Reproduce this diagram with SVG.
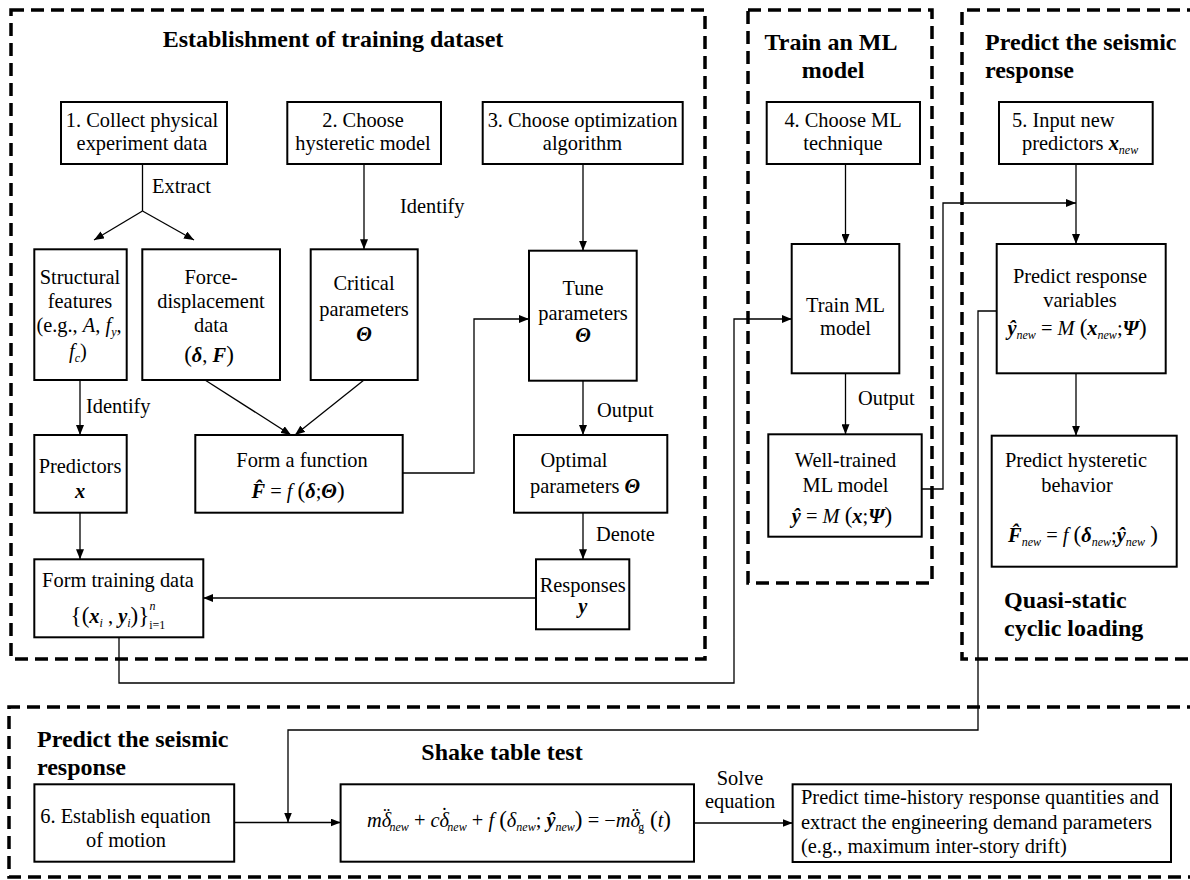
<svg xmlns="http://www.w3.org/2000/svg" width="1190" height="880" viewBox="0 0 1190 880">
<style>
text { font-family: "Liberation Serif", "Tinos", "DejaVu Serif", serif; font-size: 20.4px; fill: #000; }
.m { text-anchor: middle; }
.h { font-weight: bold; font-size: 24px; }
.i { font-style: italic; }
.bi { font-style: italic; font-weight: bold; }
.s { font-size: 12px; font-style: italic; }
.p { font-size: 23px; }
.box { fill: #fff; stroke: #000; stroke-width: 2; }
.dash { fill: none; stroke: #000; stroke-width: 3.5; stroke-dasharray: 13 7; }
.c { fill: none; stroke: #000; stroke-width: 1.3; }
.a { marker-end: url(#ah); }
</style>
<defs>
<marker id="ah" markerUnits="userSpaceOnUse" markerWidth="10" markerHeight="8" refX="10" refY="4" orient="auto">
<path d="M0,0 L10,4 L0,8 z" fill="#000"/>
</marker>
</defs>

<g id="regions">
<rect class="dash" x="11" y="10" width="694" height="649"/>
<rect class="dash" x="748" y="10" width="184" height="573"/>
<path class="dash" d="M1200,10 H962 V659 H1200"/>
<path class="dash" d="M1200,707 H9 V877 H1200"/>
</g>

<g id="titles">
<text class="h m" x="333" y="47">Establishment of training dataset</text>
<text class="h m" x="831" y="50">Train an ML</text>
<text class="h m" x="833" y="78">model</text>
<text class="h" x="985" y="50">Predict the seismic</text>
<text class="h" x="985" y="78">response</text>
<text class="h" x="1004" y="608">Quasi-static</text>
<text class="h" x="1004" y="636">cyclic loading</text>
<text class="h" x="37" y="747">Predict the seismic</text>
<text class="h" x="37" y="775">response</text>
<text class="h m" x="502" y="760">Shake table test</text>
</g>

<g id="connectors">
<path class="c" d="M142.5,164 V211"/>
<path class="c a" d="M142.5,211 L94,240"/>
<path class="c a" d="M142.5,211 L194,240"/>
<path class="c a" d="M364,164 V249.3"/>
<path class="c a" d="M583,164 V250.7"/>
<path class="c a" d="M845.5,164 V244"/>
<path class="c a" d="M1076,164 V244"/>
<path class="c a" d="M80,380 V435"/>
<path class="c a" d="M205,380 L291,435"/>
<path class="c a" d="M364,380 L295,435"/>
<path class="c a" d="M403,473 H474 V319 H529"/>
<path class="c a" d="M583,380.7 V435"/>
<path class="c a" d="M583,513 V559.3"/>
<path class="c a" d="M80,513 V559.3"/>
<path class="c a" d="M536,598 H203.3"/>
<path class="c a" d="M119,637.3 V683 H734 V319 H791.7"/>
<path class="c a" d="M845.5,373.3 V434.3"/>
<path class="c a" d="M921.7,489 H943 V203 H1076"/>
<path class="c a" d="M1076,373.3 V435.7"/>
<path class="c a" d="M996.7,311 H978 V730 H288 V822.5"/>
<path class="c a" d="M234.2,822.5 H340.6"/>
<path class="c a" d="M694,823 H792.6"/>
<text x="152" y="193">Extract</text>
<text x="400" y="213">Identify</text>
<text x="86" y="413">Identify</text>
<text x="597" y="417">Output</text>
<text x="596" y="541">Denote</text>
<text x="858" y="405">Output</text>
<text class="m" x="740" y="785">Solve</text>
<text class="m" x="740" y="808">equation</text>
</g>

<g id="n1">
<rect class="box" x="61" y="102" width="166" height="62"/>
<text class="m" x="142" y="127">1. Collect physical</text>
<text class="m" x="142" y="150">experiment data</text>
</g>
<g id="n2">
<rect class="box" x="287.3" y="102" width="153.7" height="62"/>
<text class="m" x="363" y="127">2. Choose</text>
<text class="m" x="363" y="150">hysteretic model</text>
</g>
<g id="n3">
<rect class="box" x="482.7" y="102" width="200" height="62"/>
<text class="m" x="582.5" y="127">3. Choose optimization</text>
<text class="m" x="582.5" y="150">algorithm</text>
</g>
<g id="n4">
<rect class="box" x="766.7" y="102" width="153.3" height="62"/>
<text class="m" x="843" y="127">4. Choose ML</text>
<text class="m" x="843" y="150">technique</text>
</g>
<g id="n5">
<rect class="box" x="999" y="102" width="153.7" height="62"/>
<text x="1012" y="127">5. Input new</text>
<text x="1022" y="150">predictors <tspan class="bi">x</tspan><tspan class="s" dy="4">new</tspan></text>
</g>

<g id="n-structural">
<rect class="box" x="34.3" y="249.3" width="92.4" height="130.7"/>
<text class="m" x="80" y="284">Structural</text>
<text class="m" x="80" y="308">features</text>
<text class="m" x="79" y="332">(e.g., <tspan class="i">A</tspan>, <tspan class="i">f</tspan><tspan class="s" dy="4">y</tspan><tspan dy="-4">,</tspan></text>
<text class="m" x="78" y="358"><tspan class="i">f</tspan><tspan class="s" dy="4">c</tspan><tspan dy="-4">)</tspan></text>
</g>
<g id="n-forcedisp">
<rect class="box" x="142.3" y="249.3" width="137.7" height="130.7"/>
<text class="m" x="211" y="284">Force-</text>
<text class="m" x="211" y="308">displacement</text>
<text class="m" x="211" y="332">data</text>
<text class="m" x="209" y="362"><tspan class="p">(</tspan><tspan class="bi">δ</tspan>, <tspan class="bi">F</tspan><tspan class="p">)</tspan></text>
</g>
<g id="n-critical">
<rect class="box" x="310.7" y="249.3" width="107" height="130.7"/>
<text class="m" x="364" y="290">Critical</text>
<text class="m" x="364" y="316">parameters</text>
<text class="m bi" x="364" y="341">Θ</text>
</g>
<g id="n-tune">
<rect class="box" x="529" y="250.7" width="107.7" height="130"/>
<text class="m" x="583" y="295">Tune</text>
<text class="m" x="583" y="320">parameters</text>
<text class="m bi" x="583" y="342">Θ</text>
</g>
<g id="n-train">
<rect class="box" x="791.7" y="244" width="107.6" height="129.3"/>
<text class="m" x="845.5" y="312">Train ML</text>
<text class="m" x="845.5" y="335">model</text>
</g>
<g id="n-predresp">
<rect class="box" x="996.7" y="244" width="169" height="129.3"/>
<text class="m" x="1080" y="283">Predict response</text>
<text class="m" x="1080" y="307">variables</text>
<text class="m" x="1077" y="335"><tspan class="bi">ŷ</tspan><tspan class="s" dy="4">new</tspan><tspan dy="-4"> = </tspan><tspan class="i">M</tspan> <tspan class="p">(</tspan><tspan class="bi">x</tspan><tspan class="s" dy="4">new</tspan><tspan dy="-4">;</tspan><tspan class="bi">Ψ</tspan><tspan class="p">)</tspan></text>
</g>

<g id="n-predictors">
<rect class="box" x="34.3" y="435" width="92.4" height="77.7"/>
<text class="m" x="80" y="473">Predictors</text>
<text class="m bi" x="80" y="498">x</text>
</g>
<g id="n-function">
<rect class="box" x="195.3" y="435" width="207.4" height="77.7"/>
<text class="m" x="302" y="467">Form a function</text>
<text class="m" x="298" y="498"><tspan class="bi">F&#x302;</tspan> = <tspan class="i">f</tspan> <tspan class="p">(</tspan><tspan class="bi">δ</tspan>;<tspan class="bi">Θ</tspan><tspan class="p">)</tspan></text>
</g>
<g id="n-optimal">
<rect class="box" x="514" y="435" width="153.3" height="77.7"/>
<text class="m" x="574" y="467">Optimal</text>
<text class="m" x="585" y="493">parameters <tspan class="bi">Θ</tspan></text>
</g>
<g id="n-welltrained">
<rect class="box" x="768.3" y="434.3" width="153.4" height="102.4"/>
<text class="m" x="845.5" y="467">Well-trained</text>
<text class="m" x="845.5" y="492">ML model</text>
<text class="m" x="842" y="523"><tspan class="bi">ŷ</tspan> = <tspan class="i">M</tspan> <tspan class="p">(</tspan><tspan class="bi">x</tspan>;<tspan class="bi">Ψ</tspan><tspan class="p">)</tspan></text>
</g>
<g id="n-hysteretic">
<rect class="box" x="991.7" y="435.7" width="185" height="131"/>
<text class="m" x="1076" y="467">Predict hysteretic</text>
<text class="m" x="1077" y="492">behavior</text>
<text class="m" x="1083" y="542"><tspan class="bi">F&#x302;</tspan><tspan class="s" dy="4">new</tspan><tspan dy="-4"> = </tspan><tspan class="i">f</tspan> <tspan class="p">(</tspan><tspan class="bi">δ</tspan><tspan class="s" dy="4">new</tspan><tspan dy="-4">;</tspan><tspan class="bi">ŷ</tspan><tspan class="s" dy="4">new</tspan><tspan dy="-4"> </tspan><tspan class="p">)</tspan></text>
</g>

<g id="n-responses">
<rect class="box" x="536" y="559.3" width="93.3" height="70"/>
<text class="m" x="582.7" y="592">Responses</text>
<text class="m bi" x="582.7" y="613">y</text>
</g>
<g id="n-trainingdata">
<rect class="box" x="34.3" y="559.3" width="169" height="78"/>
<text class="m" x="118" y="587">Form training data</text>
<text class="m" x="118" y="623"><tspan class="p">{(</tspan><tspan class="bi">x</tspan><tspan class="s" dy="4">i</tspan><tspan dy="-4"> , </tspan><tspan class="bi">y</tspan><tspan class="s" dy="4">i</tspan><tspan class="p" dy="-4">)}</tspan><tspan font-size="12" dy="6">i=1</tspan><tspan class="s" dx="-16" dy="-19">n</tspan></text>
</g>

<g id="n6">
<rect class="box" x="34.4" y="784.3" width="199.8" height="77.4"/>
<text class="m" x="125.5" y="823">6. Establish equation</text>
<text class="m" x="126" y="847">of motion</text>
</g>
<g id="n-equation">
<rect class="box" x="340.6" y="784.3" width="353.4" height="77.4"/>
<text class="m" x="519" y="827"><tspan class="i">mδ</tspan><tspan dx="-8" dy="-5">¨</tspan><tspan class="s" dx="-0.5" dy="9">new</tspan><tspan dy="-4"> + </tspan><tspan class="i">cδ</tspan><tspan dx="-8" dy="-5">˙</tspan><tspan class="s" dx="-0.5" dy="9">new</tspan><tspan dy="-4"> + </tspan><tspan class="i">f</tspan> <tspan class="p">(</tspan><tspan class="i">δ</tspan><tspan class="s" dy="4">new</tspan><tspan dy="-4">; </tspan><tspan class="bi">ŷ</tspan><tspan class="s" dy="4">new</tspan><tspan class="p" dy="-4">)</tspan> = −<tspan class="i">mδ</tspan><tspan dx="-8" dy="-5">¨</tspan><tspan font-size="12" dx="-0.5" dy="9">g</tspan><tspan class="p" dy="-4"> (</tspan><tspan class="i">t</tspan><tspan class="p">)</tspan></text>
</g>
<g id="n-final">
<rect class="box" x="792.6" y="784.3" width="378.4" height="77.7"/>
<text x="801" y="804">Predict time-history response quantities and</text>
<text x="801" y="828.5">extract the engineering demand parameters</text>
<text x="801" y="853">(e.g., maximum inter-story drift)</text>
</g>
</svg>
